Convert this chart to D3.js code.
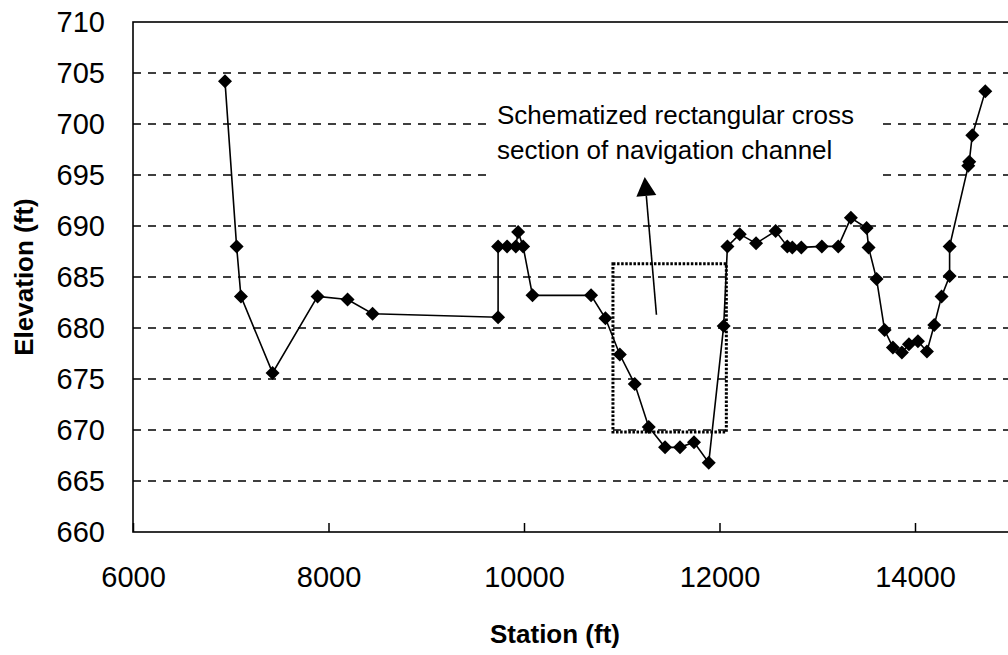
<!DOCTYPE html>
<html>
<head>
<meta charset="utf-8">
<script src="https://cdn.jsdelivr.net/npm/d3@7"></script>
<style>
  body { margin: 0; background: #fff; }
  text { font-family: "Liberation Sans", Arial, sans-serif; fill: #000; }
</style>
</head>
<body>
<svg id="chart" width="1008" height="655"></svg>
<script>
// Surveyed cross section, station (ft) and elevation (ft)
var stations = [6941, 7060, 7104, 7428, 7888, 8195, 8451, 9735, 9735, 9827, 9916, 9940, 9991,
  10087, 10686, 10833, 10980, 11133, 11276, 11443, 11596, 11739, 11890, 12043, 12081, 12207,
  12374, 12574, 12694, 12745, 12837, 13047, 13215, 13344, 13505, 13525, 13607, 13689, 13774,
  13866, 13938, 14030, 14122, 14197, 14272, 14354, 14354, 14545, 14555, 14586, 14719];
var elevations = [704.2, 688.0, 683.1, 675.6, 683.1, 682.8, 681.4, 681.05, 688.0, 688.0, 688.0, 689.4, 688.0,
  683.2, 683.2, 680.95, 677.4, 674.5, 670.3, 668.3, 668.3, 668.8, 666.8, 680.2, 688.0, 689.2,
  688.3, 689.5, 688.0, 687.9, 687.9, 688.0, 688.0, 690.8, 689.8, 687.9, 684.8, 679.8, 678.1,
  677.6, 678.4, 678.7, 677.7, 680.3, 683.1, 685.1, 688.0, 695.9, 696.3, 698.9, 703.2];

var xTicks = [6000, 8000, 10000, 12000, 14000];
var yTicks = [660, 665, 670, 675, 680, 685, 690, 695, 700, 705, 710];

// schematized channel box: [station left, station right], [elev bottom, elev top]
var channelX = [10910, 12070];
var channelY = [669.8, 686.3];
// annotation
var noteLines = ["Schematized rectangular cross", "section of navigation channel"];
var arrowFrom = [11355, 681.3];
var arrowTo = [11235, 694.8];

var svg = d3.select("#chart");
var plotLeft = 133, plotTop = 22;

var x = d3.scaleLinear().domain([6000, 16000]).range([plotLeft, plotLeft + 977.5]);
var y = d3.scaleLinear().domain([660, 710]).range([532, plotTop]);

var data = stations.map(function(s, i){ return {s: s, e: elevations[i]}; });

// dashed grid
svg.append("g")
  .selectAll("line")
  .data(yTicks.filter(function(d){ return d > 660 && d < 710; }))
  .enter().append("line")
    .attr("x1", x(6000)).attr("x2", x(16000))
    .attr("y1", function(d){ return y(d); })
    .attr("y2", function(d){ return y(d); })
    .attr("stroke", "#000")
    .attr("stroke-width", 1.3)
    .attr("stroke-dasharray", "8,7");

// white box behind the note text
svg.append("rect")
  .attr("x", x(9620)).attr("y", y(703.3))
  .attr("width", x(13618) - x(9620))
  .attr("height", y(693.0) - y(703.3))
  .attr("fill", "#fff");

// plot frame
svg.append("rect")
  .attr("x", x(6000)).attr("y", y(710))
  .attr("width", x(16000) - x(6000))
  .attr("height", y(660) - y(710))
  .attr("fill", "none")
  .attr("stroke", "#000")
  .attr("stroke-width", 1.6);

// axes
var xAxis = svg.append("g")
  .attr("transform", "translate(0," + y(660) + ")")
  .call(d3.axisBottom(x).tickValues(xTicks).tickFormat(d3.format("d")).tickSize(-9).tickPadding(34));
var yAxis = svg.append("g")
  .attr("transform", "translate(" + x(6000) + ",0)")
  .call(d3.axisLeft(y).tickValues(yTicks).tickFormat(d3.format("d")).tickSize(0).tickPadding(28));
[xAxis, yAxis].forEach(function(g){
  g.select(".domain").remove();
  g.selectAll("line").attr("stroke", "#000").attr("stroke-width", 1.5);
  g.selectAll("text").style("font-size", "29px").attr("fill", "#111")
    .style("font-family", "'Liberation Sans', Arial, sans-serif");
});

// channel rectangle
svg.append("rect")
  .attr("x", x(channelX[0])).attr("y", y(channelY[1]))
  .attr("width", x(channelX[1]) - x(channelX[0]))
  .attr("height", y(channelY[0]) - y(channelY[1]))
  .attr("fill", "none")
  .attr("stroke", "#000")
  .attr("stroke-width", 3)
  .attr("stroke-dasharray", "2.5,1.6");

// profile line
svg.append("path")
  .datum(data)
  .attr("fill", "none")
  .attr("stroke", "#000")
  .attr("stroke-width", 1.6)
  .attr("d", d3.line().x(function(d){ return x(d.s); }).y(function(d){ return y(d.e); }));

// diamond markers
svg.append("g")
  .selectAll("path")
  .data(data)
  .enter().append("path")
    .attr("transform", function(d){ return "translate(" + x(d.s) + "," + y(d.e) + ")"; })
    .attr("d", "M0,-7L7,0L0,7L-7,0Z")
    .attr("fill", "#000");

// annotation arrow
var ax0 = x(arrowFrom[0]), ay0 = y(arrowFrom[1]);
var ax1 = x(arrowTo[0]), ay1 = y(arrowTo[1]);
var ang = Math.atan2(ay1 - ay0, ax1 - ax0);
var headLen = 19, headW = 10;
var bx = ax1 - headLen * Math.cos(ang), by = ay1 - headLen * Math.sin(ang);
svg.append("line")
  .attr("x1", ax0).attr("y1", ay0).attr("x2", bx).attr("y2", by)
  .attr("stroke", "#000").attr("stroke-width", 1.6);
svg.append("path")
  .attr("d", "M" + ax1 + "," + ay1 +
    "L" + (bx + headW * Math.sin(ang)) + "," + (by - headW * Math.cos(ang)) +
    "L" + (bx - headW * Math.sin(ang)) + "," + (by + headW * Math.cos(ang)) + "Z")
  .attr("fill", "#000");

svg.append("g")
  .selectAll("text")
  .data(noteLines)
  .enter().append("text")
    .attr("x", 497)
    .attr("y", function(d, i){ return 124 + i * 35; })
    .style("font-size", "26px")
    .text(function(d){ return d; });

// axis titles
svg.append("text")
  .attr("x", 555)
  .attr("y", 643)
  .attr("text-anchor", "middle")
  .style("font-size", "26px")
  .style("font-weight", "bold")
  .text("Station (ft)");
svg.append("text")
  .attr("transform", "translate(33," + y(685) + ") rotate(-90)")
  .attr("text-anchor", "middle")
  .style("font-size", "26px")
  .style("font-weight", "bold")
  .text("Elevation (ft)");
</script>
</body>
</html>
